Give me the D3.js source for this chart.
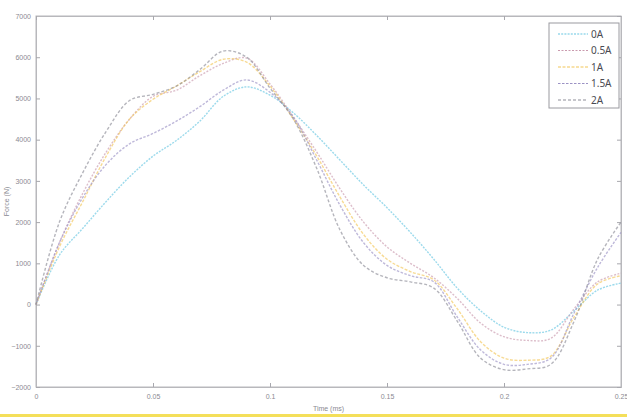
<!DOCTYPE html>
<html>
<head>
<meta charset="utf-8">
<script src="https://cdn.jsdelivr.net/npm/d3@7"></script>
<style>
  body { margin: 0; background: #fff; }
  svg { display: block; font-family: "Liberation Sans", "DejaVu Sans", sans-serif; }
</style>
</head>
<body>
<div id="chart"></div>
<script>
var width = 627;
var height = 417;
var margin = {top: 16, right: 6, bottom: 30, left: 36};

// time axis (ms)
var times = [0, 0.01, 0.02, 0.03, 0.04, 0.05, 0.06, 0.07, 0.08, 0.09, 0.10, 0.11, 0.12,
             0.13, 0.14, 0.15, 0.16, 0.17, 0.18, 0.19, 0.20, 0.21, 0.22, 0.23, 0.24, 0.25];

var labels = ["0A", "0.5A", "1A", "1.5A", "2A"];

var force0A   = [0, 1200, 1850, 2500, 3100, 3600, 3980, 4450, 5050, 5280, 5080, 4650, 4100,
                 3500, 2900, 2350, 1750, 1100, 400, -150, -550, -680, -620, -150, 350, 520];
var force05A  = [0, 1500, 2700, 3700, 4500, 5050, 5200, 5550, 5850, 5980, 5350, 4550, 3700,
                 2800, 2000, 1400, 1000, 650, 150, -450, -780, -870, -820, -100, 550, 760];
var force1A   = [0, 1400, 2500, 3600, 4500, 4980, 5300, 5650, 5950, 5880, 5300, 4500, 3600,
                 2600, 1700, 1100, 800, 600, -100, -900, -1300, -1350, -1250, -300, 500, 700];
var force15A  = [0, 1500, 2600, 3400, 3900, 4150, 4450, 4800, 5200, 5450, 5150, 4550, 3500,
                 2400, 1500, 950, 700, 550, -300, -1100, -1450, -1450, -1300, -200, 900, 1750];
var force2A   = [0, 2000, 3200, 4200, 4950, 5100, 5300, 5700, 6150, 6000, 5250, 4500, 3300,
                 1800, 950, 650, 550, 400, -400, -1300, -1580, -1560, -1450, -400, 1100, 2000];

var colors = ["#67c6e2", "#c99aae", "#f2c659", "#9b92c4", "#8e8e98"];
var dashes = ["2,1.2", "2,1.5", "3,1.5", "2.5,1.5", "3,2"];

var yTicks = [-2000, -1000, 0, 1000, 2000, 3000, 4000, 5000, 6000, 7000];
var xTicks = [0, 0.05, 0.1, 0.15, 0.2, 0.25];
var xTickText = ["0", "0.05", "0.1", "0.15", "0.2", "0.25"];

var series = [force0A, force05A, force1A, force15A, force2A].map(function(vals, i) {
  return {
    key: labels[i],
    values: vals.map(function(v, j) { return {t: times[j], f: v}; })
  };
});

var svg = d3.select("#chart")
    .append("svg")
    .attr("width", width)
    .attr("height", height);

var w = width - margin.left - margin.right;
var h = height - margin.top - margin.bottom;

var g = svg.append("g").attr("transform", "translate(" + margin.left + "," + margin.top + ")");

var x = d3.scaleLinear().domain([0, 0.25]).range([0, w]);
var y = d3.scaleLinear().domain([-2000, 7000]).range([h, 0]);

// axes box
g.append("rect")
    .attr("width", w)
    .attr("height", h)
    .attr("fill", "none")
    .attr("stroke", "#b8b8bc")
    .attr("stroke-width", 1);

g.append("g")
    .attr("transform", "translate(0," + h + ")")
    .call(d3.axisBottom(x).tickValues(xTicks).tickSize(-4).tickPadding(7)
      .tickFormat(function(d, i) { return xTickText[i]; }));

g.append("g")
    .call(d3.axisLeft(y).tickValues(yTicks).tickSize(-4).tickPadding(5)
      .tickFormat(d3.format("d")));

// ticks on top and right like the original box
g.append("g")
    .call(d3.axisTop(x).tickValues(xTicks).tickSize(-4).tickFormat(""));
g.append("g")
    .attr("transform", "translate(" + w + ",0)")
    .call(d3.axisRight(y).tickValues(yTicks).tickSize(-4).tickFormat(""));

g.selectAll(".domain").attr("stroke", "#b8b8bc");
g.selectAll(".tick line").attr("stroke", "#a8a8ae");
g.selectAll(".tick text")
    .attr("fill", "#8a8a92")
    .style("font-size", "7px");

var line = d3.line()
    .x(function(d) { return x(d.t); })
    .y(function(d) { return y(d.f); })
    .curve(d3.curveCatmullRom);

g.selectAll(".serie")
  .data(series)
  .enter().append("path")
    .attr("class", "serie")
    .attr("fill", "none")
    .attr("stroke", function(d, i) { return colors[i]; })
    .attr("stroke-width", 1.4)
    .attr("stroke-dasharray", function(d, i) { return dashes[i]; })
    .attr("opacity", 0.65)
    .attr("d", function(d) { return line(d.values); });

// axis titles
svg.append("text")
    .attr("transform", "translate(9," + (margin.top + h / 2) + ") rotate(-90)")
    .attr("text-anchor", "middle")
    .attr("fill", "#8a8a92")
    .style("font-size", "7px")
    .text("Force (N)");

svg.append("text")
    .attr("x", margin.left + w / 2)
    .attr("y", 411)
    .attr("text-anchor", "middle")
    .attr("fill", "#8a8a92")
    .style("font-size", "7px")
    .text("Time (ms)");

// legend
var legend = g.append("g").attr("transform", "translate(" + (w - 72) + ",7)");

legend.append("rect")
    .attr("width", 70)
    .attr("height", 85)
    .attr("fill", "#fff")
    .attr("stroke", "#9a9aa0");

var item = legend.selectAll(".item")
  .data(labels)
  .enter().append("g")
    .attr("class", "item")
    .attr("transform", function(d, i) { return "translate(0," + (11 + i * 16.5) + ")"; });

item.append("line")
    .attr("x1", 9)
    .attr("x2", 39)
    .attr("stroke", function(d, i) { return colors[i]; })
    .attr("stroke-width", 1.2)
    .attr("stroke-dasharray", function(d, i) { return dashes[i]; });

item.append("text")
    .attr("x", 42)
    .attr("dy", "0.35em")
    .attr("fill", "#4a4a52")
    .style("font-size", "10px")
    .style("font-family", "'Noto Sans', sans-serif")
    .text(function(d) { return d; });

// yellow highlight stripe along the bottom of the scan
svg.append("rect")
    .attr("x", 0)
    .attr("y", 414)
    .attr("width", width)
    .attr("height", 3)
    .attr("fill", "#f4df5a");
</script>
</body>
</html>
